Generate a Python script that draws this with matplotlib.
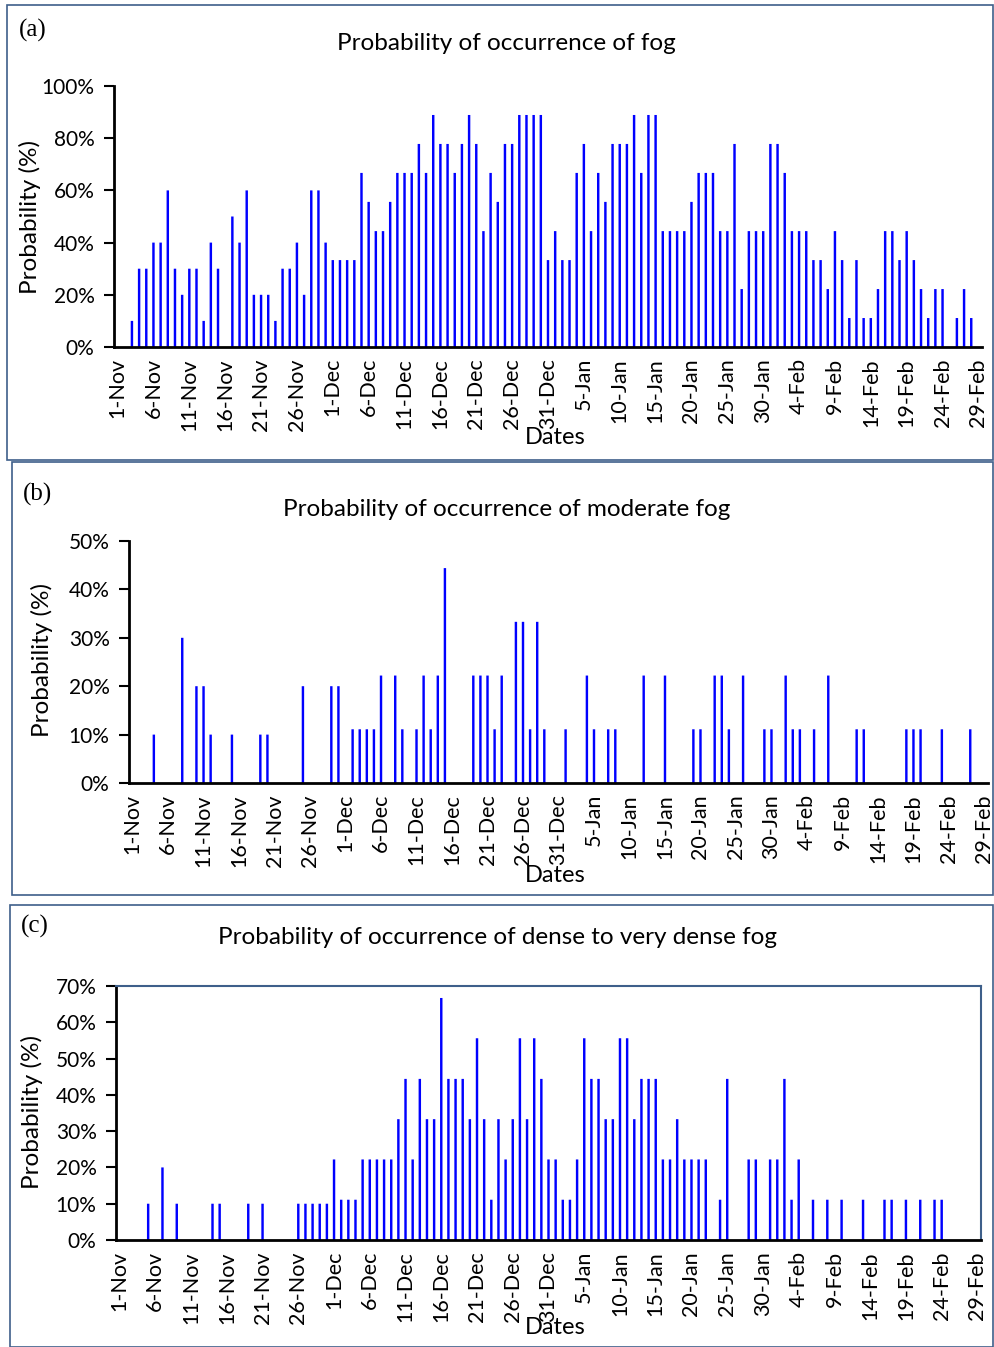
import matplotlib
matplotlib.use("Agg")
import matplotlib.pyplot as plt
from matplotlib.patches import Rectangle
from matplotlib.ticker import FuncFormatter, FixedLocator
import numpy as np

# ---- data: daily probability (%) from 1-Nov to 29-Feb ----
fog_nov = [0, 0, 10, 30, 30, 40, 40, 60, 30, 20, 30, 30, 10, 40, 30, 0, 50, 40, 60, 20,
           20, 20, 10, 30, 30, 40, 20, 60, 60, 40]
fog_dec = [33.3, 33.3, 33.3, 33.3, 66.7, 55.6, 44.4, 44.4, 55.6, 66.7, 66.7, 66.7, 77.8,
           66.7, 88.9, 77.8, 77.8, 66.7, 77.8, 88.9, 77.8, 44.4, 66.7, 55.6, 77.8, 77.8,
           88.9, 88.9, 88.9, 88.9, 33.3]
fog_jan = [44.4, 33.3, 33.3, 66.7, 77.8, 44.4, 66.7, 55.6, 77.8, 77.8, 77.8, 88.9, 66.7,
           88.9, 88.9, 44.4, 44.4, 44.4, 44.4, 55.6, 66.7, 66.7, 66.7, 44.4, 44.4, 77.8,
           22.2, 44.4, 44.4, 44.4, 77.8]
fog_feb = [77.8, 66.7, 44.4, 44.4, 44.4, 33.3, 33.3, 22.2, 44.4, 33.3, 11.1, 33.3, 11.1,
           11.1, 22.2, 44.4, 44.4, 33.3, 44.4, 33.3, 22.2, 11.1, 22.2, 22.2, 0, 11.1, 22.2,
           11.1, 0]

moderate_nov = [0, 0, 0, 10, 0, 0, 0, 30, 0, 20, 20, 10, 0, 0, 10, 0, 0, 0, 10, 10, 0, 0,
                0, 0, 20, 0, 0, 0, 20, 20]
moderate_dec = [0, 11.1, 11.1, 11.1, 11.1, 22.2, 0, 22.2, 11.1, 0, 11.1, 22.2, 11.1, 22.2,
                44.4, 0, 0, 0, 22.2, 22.2, 22.2, 11.1, 22.2, 0, 33.3, 33.3, 11.1, 33.3,
                11.1, 0, 0]
moderate_jan = [11.1, 0, 0, 22.2, 11.1, 0, 11.1, 11.1, 0, 0, 0, 22.2, 0, 0, 22.2, 0, 0, 0,
                11.1, 11.1, 0, 22.2, 22.2, 11.1, 0, 22.2, 0, 0, 11.1, 11.1, 0]
moderate_feb = [22.2, 11.1, 11.1, 0, 11.1, 0, 22.2, 0, 0, 0, 11.1, 11.1, 0, 0, 0, 0, 0,
                11.1, 11.1, 11.1, 0, 0, 11.1, 0, 0, 0, 11.1, 0, 0]

dense_nov = [0, 0, 0, 0, 10, 0, 20, 0, 10, 0, 0, 0, 0, 10, 10, 0, 0, 0, 10, 0, 10, 0, 0,
             0, 0, 10, 10, 10, 10, 10]
dense_dec = [22.2, 11.1, 11.1, 11.1, 22.2, 22.2, 22.2, 22.2, 22.2, 33.3, 44.4, 22.2, 44.4,
             33.3, 33.3, 66.7, 44.4, 44.4, 44.4, 33.3, 55.6, 33.3, 11.1, 33.3, 22.2, 33.3,
             55.6, 33.3, 55.6, 44.4, 22.2]
dense_jan = [22.2, 11.1, 11.1, 22.2, 55.6, 44.4, 44.4, 33.3, 33.3, 55.6, 55.6, 33.3, 44.4,
             44.4, 44.4, 22.2, 22.2, 33.3, 22.2, 22.2, 22.2, 22.2, 0, 11.1, 44.4, 0, 0,
             22.2, 22.2, 0, 22.2]
dense_feb = [22.2, 44.4, 11.1, 22.2, 0, 11.1, 0, 11.1, 0, 11.1, 0, 0, 11.1, 0, 0, 11.1,
             11.1, 0, 11.1, 0, 11.1, 0, 11.1, 11.1, 0, 0, 0, 0, 0]

date_labels = ['1-Nov', '6-Nov', '11-Nov', '16-Nov', '21-Nov', '26-Nov', '1-Dec', '6-Dec',
               '11-Dec', '16-Dec', '21-Dec', '26-Dec', '31-Dec', '5-Jan', '10-Jan',
               '15-Jan', '20-Jan', '25-Jan', '30-Jan', '4-Feb', '9-Feb', '14-Feb',
               '19-Feb', '24-Feb', '29-Feb']

titles = ['Probability of occurrence of fog',
          'Probability of occurrence of moderate fog',
          'Probability of occurrence of dense to very dense fog']
panel_tags = ['(a)', '(b)', '(c)']
y_max = [100, 50, 70]
y_step = [20, 10, 10]

series = [fog_nov + fog_dec + fog_jan + fog_feb,
          moderate_nov + moderate_dec + moderate_jan + moderate_feb,
          dense_nov + dense_dec + dense_jan + dense_feb]

# ---- figure layout (pixel based) ----
W, H = 994, 1347
plt.rcParams['font.family'] = ['Lato', 'DejaVu Sans']
fig = plt.figure(figsize=(W / 100, H / 100), dpi=100)


def fx(x):
    return x / W


def fy(y):
    return 1 - y / H


# plot-area boxes: (left, top, right, bottom) in pixels
boxes = [(114, 86, 982, 347), (129, 541, 988, 783), (116, 986, 981, 1240)]
frames = [(7, 5, 993, 460), (12, 462, 993, 895), (10, 905, 993, 1347)]
title_pos = [(506, 43), (507, 509), (497, 937)]
tag_pos = [(33, 30), (38, 494), (35, 926)]
ylabel_pos = [(30, 217), (42, 660), (32, 1112)]
xlabel_pos = [(555, 438), (555, 876), (555, 1328)]

frame_color = '#3E5F8A'

for k in range(3):
    l, t, r, b = boxes[k]
    ax = fig.add_axes([fx(l), fy(b), (r - l) / W, (b - t) / H])
    vals = np.array(series[k], dtype=float)
    days = np.arange(len(vals))
    ax.bar(days, vals, width=0.34, color='#0000FF', linewidth=0, snap=False)
    ax.set_xlim(-0.5, len(vals) - 0.5)
    ax.set_ylim(0, y_max[k])
    ax.set_yticks(np.arange(0, y_max[k] + 1, y_step[k]))
    ax.yaxis.set_major_formatter(FuncFormatter(lambda v, p: f'{v:.0f}%'))
    ax.xaxis.set_major_locator(FixedLocator(np.arange(0, len(vals), 5)))
    ax.set_xticklabels(date_labels, rotation=90)
    ax.tick_params(axis='x', length=0, pad=8, labelsize=15.5)
    ax.tick_params(axis='y', length=7, width=1.5, direction='out', pad=7, labelsize=15)
    for side in ('left', 'bottom'):
        ax.spines[side].set_linewidth(2)
        ax.spines[side].set_color('black')
    if k == 2:
        for side in ('top', 'right'):
            ax.spines[side].set_linewidth(1.5)
            ax.spines[side].set_color(frame_color)
    else:
        ax.spines['top'].set_visible(False)
        ax.spines['right'].set_visible(False)

    fig.text(fx(title_pos[k][0]), fy(title_pos[k][1]), titles[k], ha='center',
             va='center', fontsize=17.5)
    fig.text(fx(tag_pos[k][0]), fy(tag_pos[k][1]), panel_tags[k], ha='center',
             va='center', fontsize=18, family='Liberation Serif')
    fig.text(fx(ylabel_pos[k][0]), fy(ylabel_pos[k][1]), 'Probability (%)', ha='center',
             va='center', rotation=90, fontsize=17.5)
    fig.text(fx(xlabel_pos[k][0]), fy(xlabel_pos[k][1]), 'Dates', ha='center',
             va='center', fontsize=17)

    fl, ft, fr, fb = frames[k]
    fig.patches.append(Rectangle((fx(fl), fy(fb)), (fr - fl) / W, (fb - ft) / H,
                                 transform=fig.transFigure, fill=False,
                                 edgecolor=frame_color, linewidth=1.2))

fig.savefig('out.png', dpi=100)
